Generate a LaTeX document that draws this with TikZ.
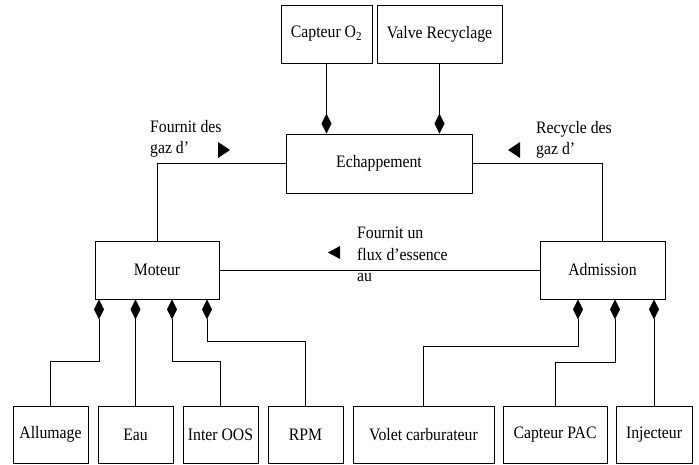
\documentclass[tikz,border=0pt]{standalone}
\usepackage{fontspec}
\setmainfont[FakeStretch=0.9]{Liberation Serif}
\usetikzlibrary{arrows.meta}
\tikzset{
  box/.style={draw, line width=0.8pt, minimum height=57pt, inner sep=0pt, font=\fontsize{17.5}{17.5}\selectfont},
  comp/.style={line width=0.8pt, -{Diamond[length=20pt,width=10pt]}},
  link/.style={line width=0.8pt},
  lbl/.style={align=left, anchor=north west, inner sep=0pt, font=\fontsize{17.5}{21.5}\selectfont},
}
\begin{document}
\begin{tikzpicture}[x=1pt,y=-1pt]
\useasboundingbox (0,0) rectangle (699,465);
% top
\node[box, minimum width=91pt, minimum height=58pt] (co2) at (326.5,34) {Capteur O\textsubscript{2}};
\node[box, minimum width=125pt, minimum height=58pt] (valve) at (439.5,34) {Valve Recyclage};
\node[box, minimum width=186pt, minimum height=59pt] (ech) at (379,163.5) {Echappement};
\node[box, minimum width=124pt, minimum height=58pt] (mot) at (157,270) {Moteur};
\node[box, minimum width=125pt, minimum height=58pt] (adm) at (602.5,270) {Admission};
% bottom
\node[box, minimum width=75pt] (all) at (50.5,434.5) {Allumage};
\node[box, minimum width=75pt] (eau) at (135.5,434.5) {Eau};
\node[box, minimum width=75pt] (inter) at (220.5,434.5) {Inter OOS};
\node[box, minimum width=75pt] (rpm) at (305.5,434.5) {RPM};
\node[box, minimum width=141pt] (volet) at (423.5,434.5) {Volet carburateur};
\node[box, minimum width=104pt] (pac) at (555,434.5) {Capteur PAC};
\node[box, minimum width=76pt] (inj) at (654,434.5) {Injecteur};
% composition links
\draw[comp] (co2.south) -- (ech.north -| co2.south);
\draw[comp] (valve.south) -- (ech.north -| valve.south);
\draw[comp] (all.north) |- (99,361) -- (mot.south -| 99,0);
\draw[comp] (eau.north) -- (mot.south -| 135.5,0);
\draw[comp] (inter.north) |- (172,361) -- (mot.south -| 172,0);
\draw[comp] (rpm.north) |- (207,341) -- (mot.south -| 207,0);
\draw[comp] (volet.north) |- (578,346) -- (adm.south -| 578,0);
\draw[comp] (pac.north) |- (615,362) -- (adm.south -| 615,0);
\draw[comp] (inj.north) -- (adm.south -| 654,0);
% associations
\draw[link] (ech.west) -| (mot.north);
\draw[link] (ech.east) -| (adm.north);
\draw[link] (mot.east) -- (adm.west);
% labels
\node[lbl] (l1) at (150,120) {Fournit des\\gaz d’};
\node[lbl] (l2) at (536,121) {Recycle des\\gaz d’};
\node[lbl] (l3) at (357,227) {Fournit un\\flux d’essence\\au};
\fill (218,142) -- (230,150) -- (218,158) -- cycle;
\fill (520,142) -- (508,150) -- (520,158) -- cycle;
\fill (340,246) -- (328,252.5) -- (340,259) -- cycle;
\end{tikzpicture}
\end{document}
